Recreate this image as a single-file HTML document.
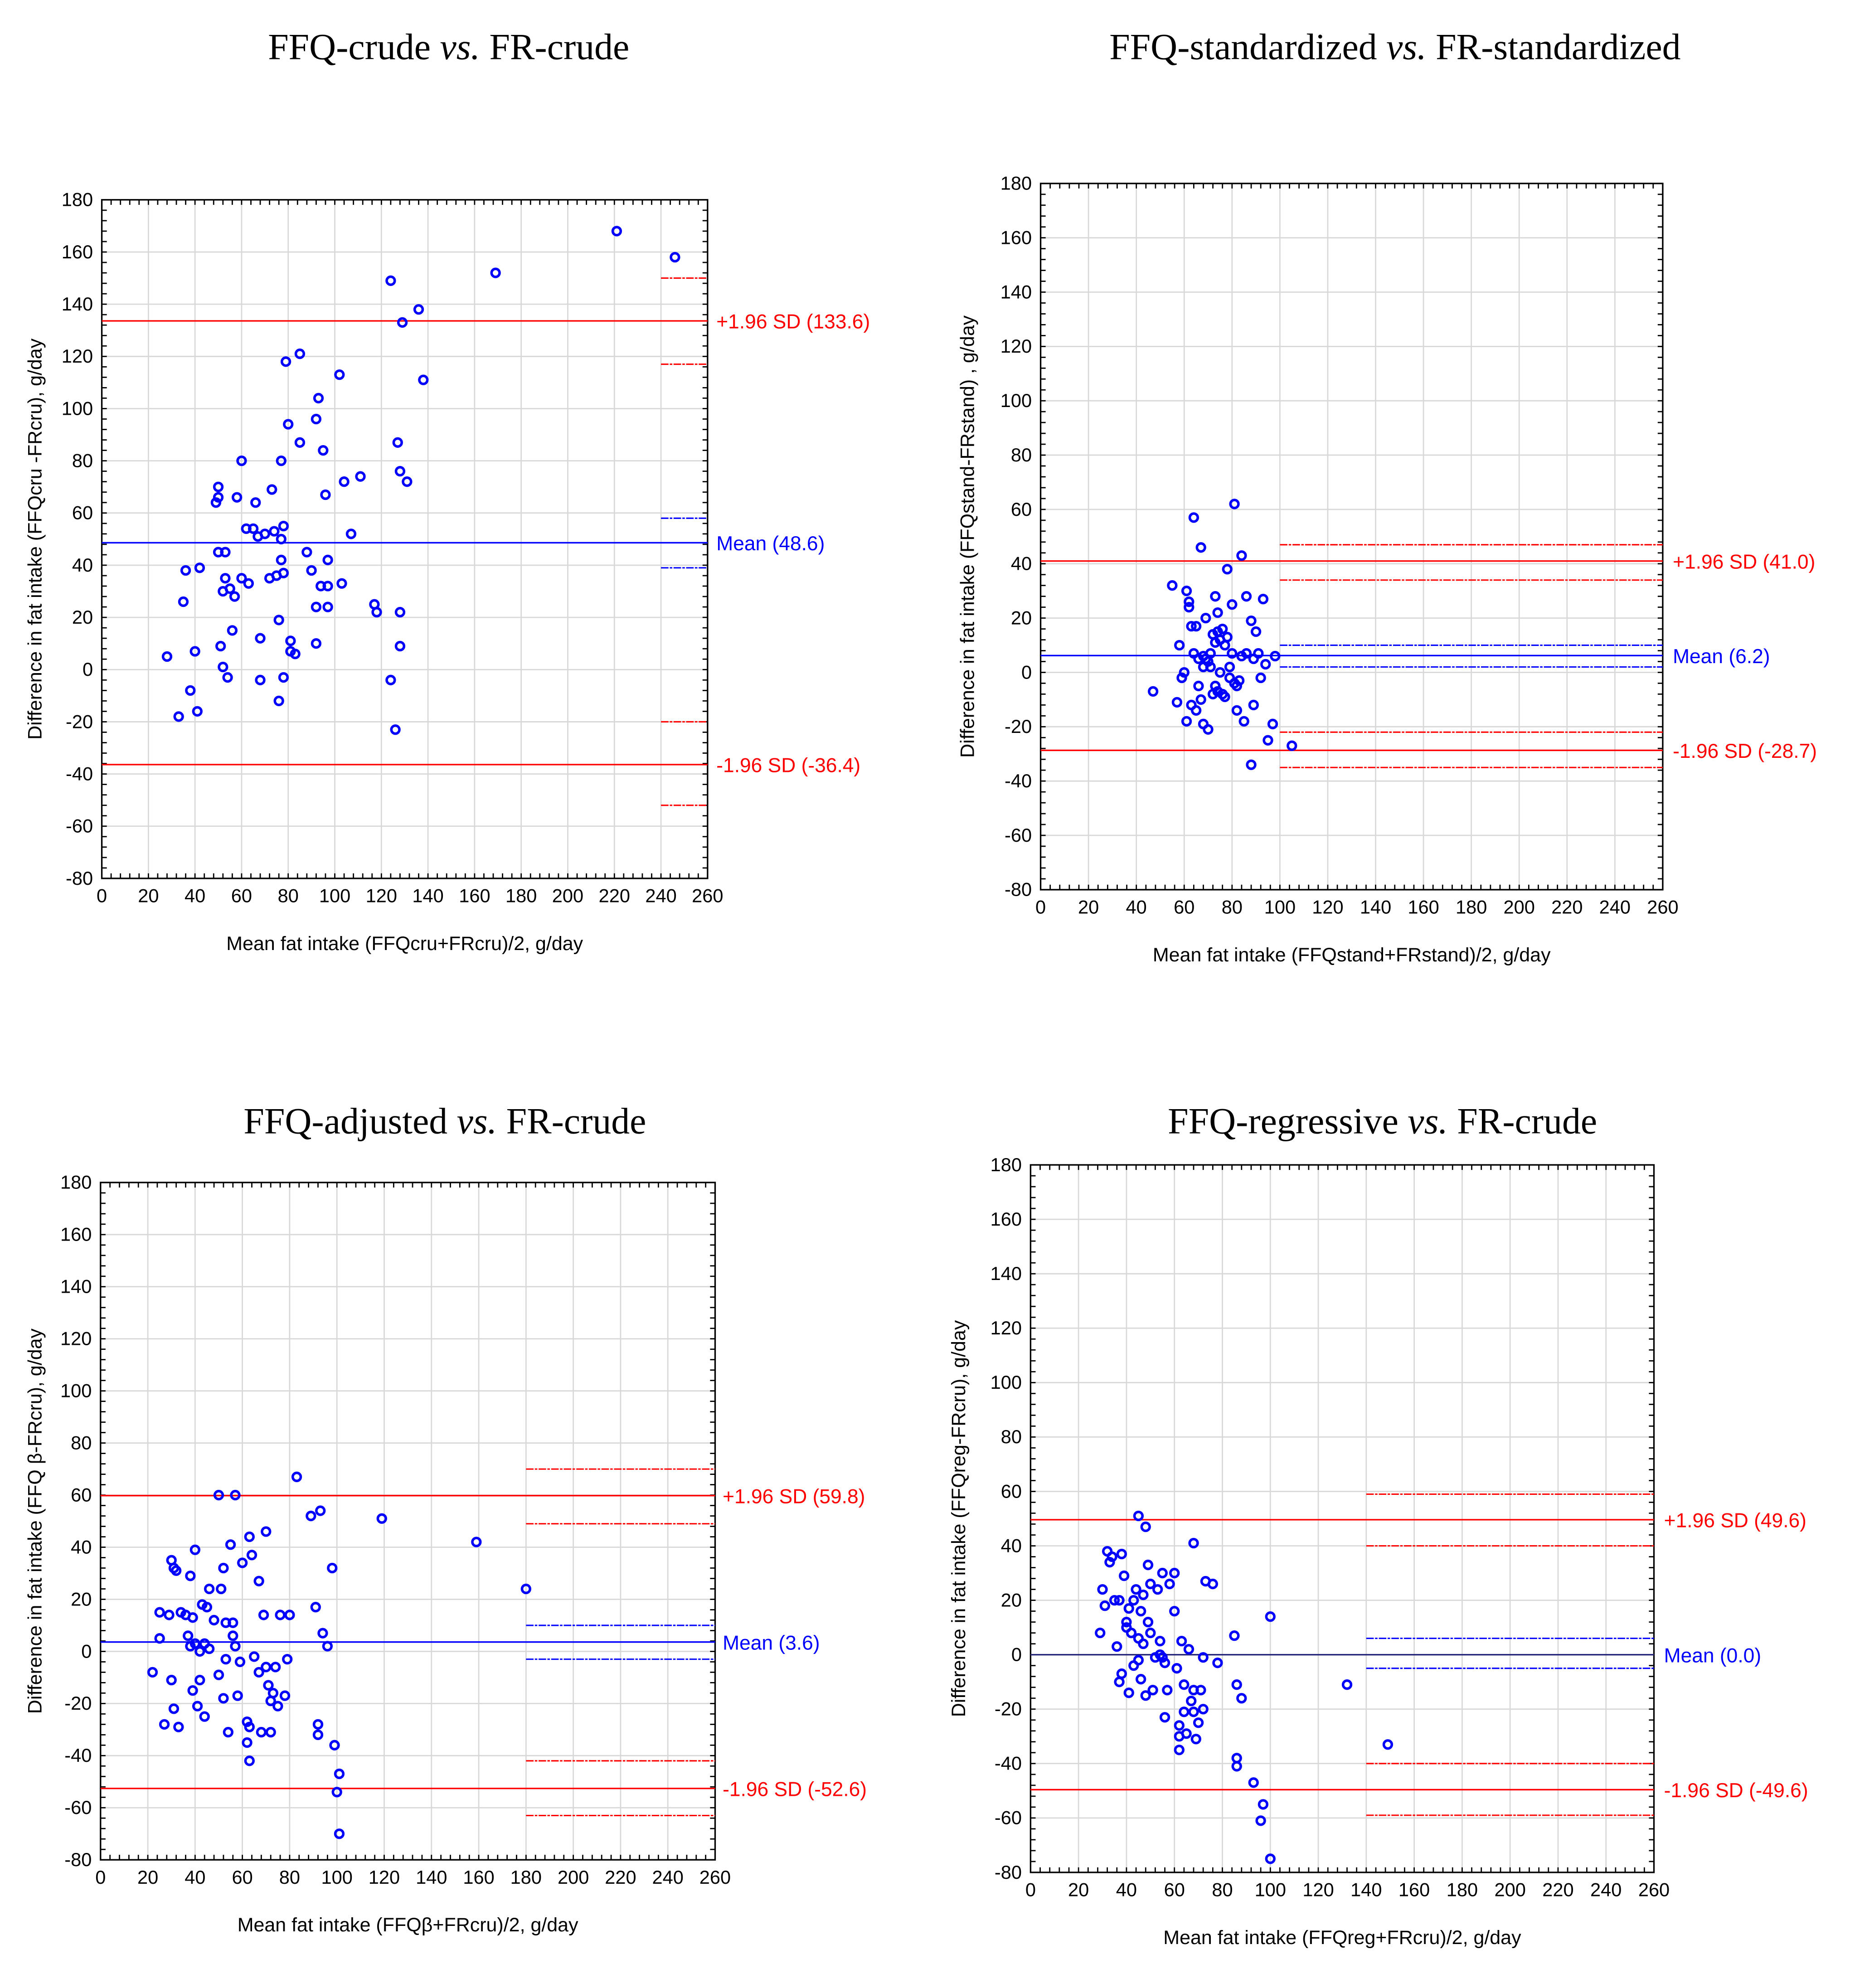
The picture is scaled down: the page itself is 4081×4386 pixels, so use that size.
<!DOCTYPE html>
<html><head><meta charset="utf-8"><style>html,body{margin:0;padding:0;background:#fff}svg{display:block}</style></head>
<body>
<svg id="fig" xmlns="http://www.w3.org/2000/svg" width="4081" height="4386" viewBox="0 0 1472 1582" preserveAspectRatio="none" font-family="Liberation Sans, Arial, sans-serif">
<rect width="1472" height="1582" fill="#fff"/>
</svg>
<script>
const xTicks=[0,20,40,60,80,100,120,140,160,180,200,220,240,260];
const yTicks=[-80,-60,-40,-20,0,20,40,60,80,100,120,140,160,180];
const p1x=[28,33,35,36,38,40,41,42,49,50,50,50,51,52,52,53,53,54,55,56,57,58,60,60,62,63,65,66,67,68,68,70,72,73,74,75,76,76,77,77,77,78,78,78,79,80,81,81,83,85,85,88,90,92,92,92,93,94,95,96,97,97,97,102,103,104,107,111,117,118,124,124,126,127,128,128,128,129,131,136,138,169,221,246];
const p1y=[5,-18,26,38,-8,7,-16,39,64,70,66,45,9,30,1,45,35,-3,31,15,28,66,80,35,54,33,54,64,51,12,-4,52,35,69,53,36,19,-12,80,42,50,55,-3,37,118,94,7,11,6,87,121,45,38,10,24,96,104,32,84,67,42,32,24,113,33,72,52,74,25,22,149,-4,-23,87,76,22,9,133,72,138,111,152,168,158];
const p2x=[47,55,57,58,59,60,61,61,62,62,63,63,64,64,65,65,66,66,67,67,68,68,68,69,69,70,70,71,71,72,72,73,73,73,74,74,74,75,75,76,76,77,77,78,78,79,79,80,80,81,81,82,82,83,84,84,85,86,86,88,88,89,89,90,91,92,93,94,95,97,98,105];
const p2y=[-7,32,-11,10,-2,0,-18,30,24,26,17,-12,57,7,17,-14,5,-5,46,-10,6,2,-19,5,20,-21,4,7,2,-8,14,28,11,-5,15,22,-7,0,12,-8,16,10,-9,38,13,2,-2,7,25,-4,62,-14,-5,-3,43,6,-18,7,28,-34,19,5,-12,15,7,-2,27,3,-25,-19,6,-27];
const p3x=[22,25,25,27,29,30,30,31,31,32,33,34,36,37,38,38,39,39,40,40,41,42,42,43,44,44,45,46,46,48,50,50,51,52,52,53,53,54,55,56,56,57,57,58,59,60,62,62,63,63,63,64,65,67,67,68,69,70,70,71,72,72,73,74,75,76,78,79,80,83,89,91,92,92,93,94,96,98,99,100,101,101,119,159,180];
const p3y=[-8,15,5,-28,14,35,-11,-22,32,31,-29,15,14,6,2,29,13,-15,39,3,-21,-11,0,18,3,-25,17,1,24,12,60,-9,24,-18,32,11,-3,-31,41,6,11,60,2,-17,-4,34,-27,-35,44,-29,-42,37,-2,27,-8,-31,14,46,-6,-13,-19,-31,-16,-6,-21,14,-17,-3,14,67,52,17,-28,-32,54,7,2,32,-36,-54,-47,-70,51,42,24];
const p4x=[29,30,31,32,33,34,35,36,37,37,38,38,39,40,40,41,41,42,43,43,44,45,45,45,46,46,47,47,48,48,49,49,50,50,51,52,53,54,54,55,55,56,56,57,58,60,60,61,62,62,62,63,64,64,65,66,67,68,68,68,69,70,71,72,72,73,76,78,85,86,86,86,88,93,96,97,100,100,132,149];
const p4y=[8,24,18,38,34,36,20,3,-10,20,-7,37,29,10,12,17,-14,8,20,-4,24,51,6,-2,16,-9,22,4,-15,47,33,12,26,8,-13,-1,24,0,5,30,-1,-3,-23,-13,26,30,16,-5,-26,-30,-35,5,-21,-11,-29,2,-17,-13,41,-21,-31,-25,-13,-20,-1,27,26,-3,7,-11,-38,-41,-16,-47,-61,-55,-75,14,-11,-33];
const refValues1=[133.6,48.6,-36.4]; const ciValues1=[150,117,58,39,-20,-52];
const refValues2=[41.0,6.2,-28.7]; const ciValues2=[47,34,10,2,-22,-35];
const refValues3=[59.8,3.6,-52.6]; const ciValues3=[70,49,10,-3,-42,-63];
const refValues4=[49.6,0.0,-49.6]; const ciValues4=[59,40,6,-5,-40,-59];

const NS='http://www.w3.org/2000/svg';
const svg=document.getElementById('fig');
function mk(tag,attrs,parent,text){const e=document.createElementNS(NS,tag);for(const k in attrs)e.setAttribute(k,attrs[k]);if(text!==undefined)e.textContent=text;parent.appendChild(e);return e;}

const panels=[
 {id:'crude',L:81,R:563,T:159,B:699,title:['FFQ-crude ','vs.',' FR-crude'],tx:357,ty:47,xs:p1x,ys:p1y,ref:refValues1,ci:ciValues1,ciStart:240,labX:570,
  xt:'Mean fat intake (FFQcru+FRcru)/2, g/day',yt:'Difference in fat intake (FFQcru    -FRcru), g/day',ytx:33,zeroColor:'#0000ff'},
 {id:'standardized',L:828,R:1323,T:146,B:708,title:['FFQ-standardized ','vs.',' FR-standardized'],tx:1110,ty:47,xs:p2x,ys:p2y,ref:refValues2,ci:ciValues2,ciStart:100,labX:1331,
  xt:'Mean fat intake (FFQstand+FRstand)/2, g/day',yt:'Difference in fat intake (FFQstand-FRstand)      , g/day',ytx:775,zeroColor:'#0000ff'},
 {id:'adjusted',L:80,R:569,T:941,B:1480,title:['FFQ-adjusted ','vs.',' FR-crude'],tx:354,ty:902,xs:p3x,ys:p3y,ref:refValues3,ci:ciValues3,ciStart:180,labX:575,
  xt:'Mean fat intake (FFQβ+FRcru)/2, g/day',yt:'Difference in fat intake (FFQ   β-FRcru), g/day',ytx:33,zeroColor:'#0000ff'},
 {id:'regressive',L:820,R:1316,T:927,B:1490,title:['FFQ-regressive ','vs.',' FR-crude'],tx:1100,ty:902,xs:p4x,ys:p4y,ref:refValues4,ci:ciValues4,ciStart:140,labX:1324,
  xt:'Mean fat intake (FFQreg+FRcru)/2, g/day',yt:'Difference in fat intake (FFQreg-FRcru), g/day',ytx:768,zeroColor:'#2a2a7a'}
];
const refNames=['+1.96 SD','Mean','-1.96 SD'];
const refColors=['#ff0000','#0000ff','#ff0000'];
const ciColors=['#ff0000','#ff0000','#0000ff','#0000ff','#ff0000','#ff0000'];

panels.forEach(p=>{
 const g=mk('g',{},svg);
 
 
 const sx=v=>p.L+(v-0)/260*(p.R-p.L);
 const sy=v=>p.B-(v+80)/260*(p.B-p.T);
 const t=mk('text',{x:p.tx,y:p.ty,'text-anchor':'middle','font-family':'Liberation Serif, serif','font-size':29.5},g);
 
 
 mk('tspan',{},t,p.title[0]);mk('tspan',{'font-style':'italic'},t,p.title[1]);mk('tspan',{},t,p.title[2]);
 const grid=mk('g',{stroke:'#d8d8d8','stroke-width':1},g);
 
 
 xTicks.forEach(v=>mk('line',{x1:sx(v),x2:sx(v),y1:p.T,y2:p.B},grid));
 yTicks.forEach(v=>mk('line',{x1:p.L,x2:p.R,y1:sy(v),y2:sy(v)},grid));
 const mt=mk('g',{stroke:'#000','stroke-width':1},g);
 for(let v=-80;v<=180;v+=4){mk('line',{x1:p.L,x2:p.L+4,y1:sy(v),y2:sy(v)},mt);mk('line',{x1:p.R,x2:p.R-4,y1:sy(v),y2:sy(v)},mt);}
 for(let v=0;v<=260;v+=4){mk('line',{x1:sx(v),x2:sx(v),y1:p.B,y2:p.B-4},mt);mk('line',{x1:sx(v),x2:sx(v),y1:p.T,y2:p.T+4},mt);}
 const fr=mk('rect',{x:p.L,y:p.T,width:p.R-p.L,height:p.B-p.T,fill:'none',stroke:'#000','stroke-width':1.2},g);
 
 
 const xl=mk('g',{'font-size':15,'text-anchor':'middle'},g);
 
 
 xTicks.forEach(v=>mk('text',{x:sx(v),y:p.B+19},xl,String(v)));
 const yl=mk('g',{'font-size':15,'text-anchor':'end'},g);
 
 
 yTicks.forEach(v=>mk('text',{x:p.L-7,y:sy(v)+5},yl,String(v)));
 const xa=mk('text',{x:(p.L+p.R)/2,y:p.B+57,'text-anchor':'middle','font-size':15.5},g,p.xt);
 
 
 const cy=(p.T+p.B)/2;
 const ya=mk('text',{x:p.ytx,y:cy,'text-anchor':'middle','font-size':15.5,transform:`rotate(-90 ${p.ytx} ${cy})`,'xml:space':'preserve'},g,p.yt);
 
 
 p.ci.forEach((v,i)=>{
  const l=mk('line',{x1:sx(p.ciStart),x2:p.R,y1:sy(v),y2:sy(v),stroke:ciColors[i],'stroke-width':1.1,'stroke-dasharray':'6 1 2 1'},g);
  
  
 });
 p.ref.forEach((v,i)=>{
  const c=(i===1&&v===0)?p.zeroColor:refColors[i];
  const l=mk('line',{x1:p.L,x2:p.R,y1:sy(v),y2:sy(v),stroke:c,'stroke-width':1.2},g);
  
  
  const tl=mk('text',{x:p.labX,y:sy(v)+6,'font-size':16,fill:refColors[i]},g,refNames[i]+' ('+v.toFixed(1)+')');
  
  
 });
 const pts=mk('g',{fill:'none',stroke:'#0000ff','stroke-width':2},g);
 
 
 p.xs.forEach((x,i)=>{
  const c=mk('circle',{cx:sx(x),cy:sy(p.ys[i]),r:3.2},pts);
  
  
 });
});
</script>
</body></html>
